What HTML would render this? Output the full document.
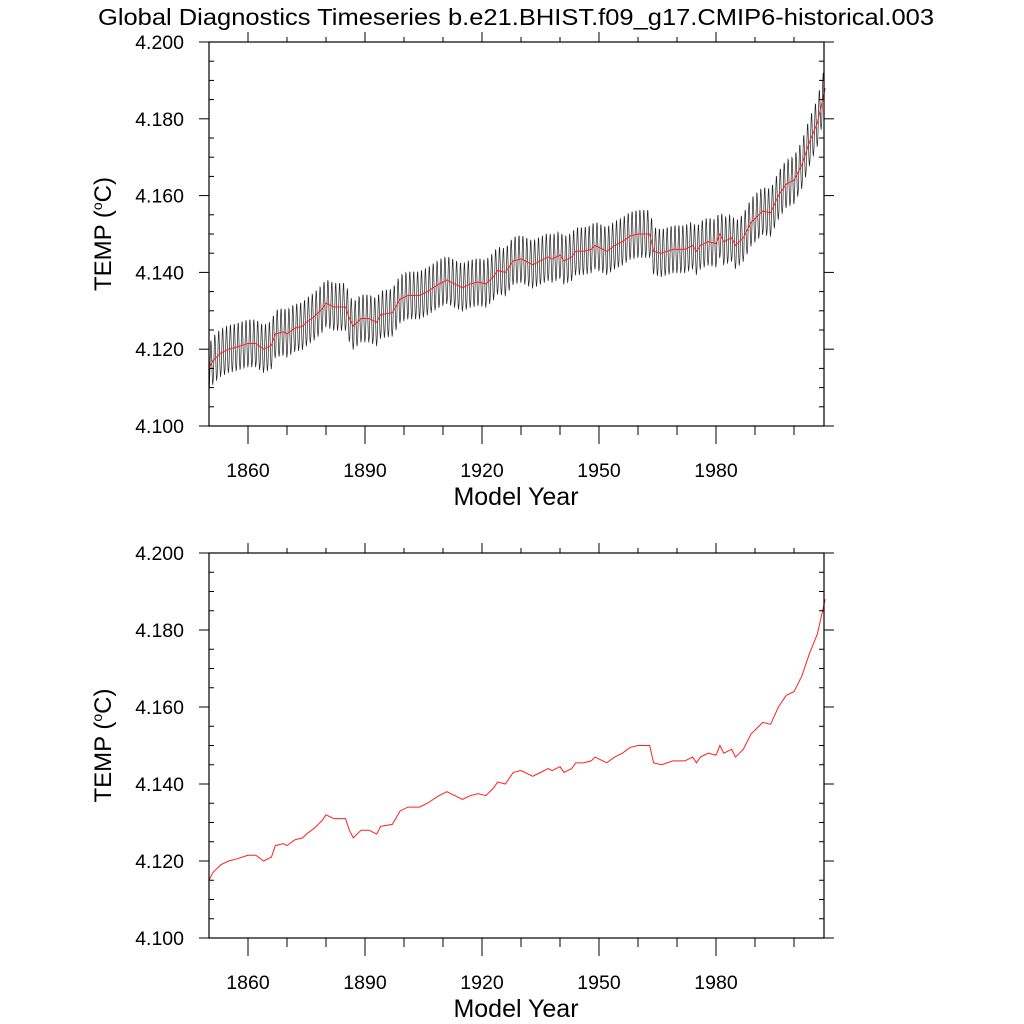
<!DOCTYPE html>
<html><head><meta charset="utf-8"><style>
html,body{margin:0;padding:0;background:#fff;}
svg{display:block;font-family:"Liberation Sans",sans-serif;}
</style></head><body>
<svg id="chart" width="1024" height="1024" viewBox="0 0 1024 1024" xmlns="http://www.w3.org/2000/svg">
<text x="516" y="25" font-size="23" text-anchor="middle" textLength="836" lengthAdjust="spacingAndGlyphs">Global Diagnostics Timeseries b.e21.BHIST.f09_g17.CMIP6-historical.003</text>
</svg>
<script>
const years = [1850,1851,1852,1853,1855,1857,1860,1862,1864,1866,1867,1869,1870,1872,1874,1875,1877,1879,1880,1882,1885,1886,1887,1889,1891,1893,1894,1897,1899,1901,1904,1906,1909,1911,1913,1915,1917,1919,1921,1923,1924,1926,1928,1930,1933,1934,1937,1938,1940,1941,1943,1944,1946,1948,1949,1951,1952,1954,1956,1958,1960,1963,1964,1966,1969,1972,1974,1975,1976,1978,1980,1981,1982,1984,1985,1987,1989,1991,1992,1994,1996,1998,2000,2002,2004,2006,2008];
const annualTemp = [4.115,4.117,4.118,4.119,4.120,4.1205,4.1215,4.1215,4.120,4.121,4.124,4.1245,4.124,4.1255,4.126,4.127,4.1285,4.1305,4.132,4.131,4.131,4.128,4.126,4.128,4.128,4.127,4.129,4.1295,4.133,4.134,4.134,4.135,4.137,4.138,4.137,4.136,4.137,4.1375,4.137,4.139,4.1405,4.140,4.143,4.1435,4.142,4.1425,4.144,4.1435,4.1445,4.143,4.144,4.1455,4.1455,4.146,4.147,4.146,4.1455,4.147,4.148,4.1495,4.150,4.150,4.1455,4.145,4.146,4.146,4.147,4.1455,4.147,4.148,4.1475,4.150,4.148,4.149,4.147,4.149,4.153,4.155,4.156,4.1555,4.160,4.163,4.164,4.168,4.174,4.179,4.188];
const seasonalAnom = [-0.0055,-0.0045,-0.0015,0.0015,0.0045,0.0062,0.006,0.0035,0.0005,-0.0025,-0.005,-0.0062];
const yTickLabels = ["4.100","4.120","4.140","4.160","4.180","4.200"];
const xTickLabels = ["1860","1890","1920","1950","1980"];

const NS="http://www.w3.org/2000/svg";
const svg=document.getElementById('chart');
const X0=209,X1=824,XMIN=1850,XMAX=1850+615/3.9;
function sx(yr){return X0+(yr-XMIN)/(XMAX-XMIN)*(X1-X0);}
function el(tag,attrs,parent){const e=document.createElementNS(NS,tag);for(const k in attrs)e.setAttribute(k,attrs[k]);(parent||svg).appendChild(e);return e;}
function annualAt(yr){
  if(yr<=years[0])return annualTemp[0];
  for(let i=1;i<years.length;i++){if(yr<=years[i]){const t=(yr-years[i-1])/(years[i]-years[i-1]);return annualTemp[i-1]+t*(annualTemp[i]-annualTemp[i-1]);}}
  return annualTemp[annualTemp.length-1];
}
function panel(top,bottom,showMonthly,idx){
  const g=el('g',{});
  
  
  const sy=v=>bottom-(v-4.1)/0.1*(bottom-top);
  if(showMonthly){
    let pts=[];
    for(let y=1850;y<XMAX;y++){for(let m=0;m<12;m++){const t=y+(m+0.5)/12;if(t>XMAX)break;pts.push(sx(t).toFixed(2)+','+sy(annualAt(t)+seasonalAnom[m]).toFixed(2));}}
    const p=el('polyline',{points:pts.join(' '),fill:'none',stroke:'#222','stroke-width':'0.7'},g);
    
    
  }
  const pts2=years.map((y,i)=>sx(y).toFixed(2)+','+sy(annualTemp[i]).toFixed(2)).join(' ');
  const r=el('polyline',{points:pts2,fill:'none',stroke:'#ff2020','stroke-width':'1'},g);
  
  
  const fr=el('rect',{x:X0,y:top,width:X1-X0,height:bottom-top,fill:'none',stroke:'#000','stroke-width':'1.2'},g);
  
  
  for(let k=0;k<=20;k++){
    const v=4.1+k*0.005,y=sy(v),maj=k%4===0;
    el('line',{x1:X0-(maj?10:0),x2:X0+(maj?0:5),y1:y,y2:y,stroke:'#000','stroke-width':'1'},g);
    el('line',{x1:X1+(maj?10:0),x2:X1-(maj?0:5),y1:y,y2:y,stroke:'#000','stroke-width':'1'},g);
  }
  yTickLabels.forEach((lab,i)=>{
    const t=el('text',{x:184,y:sy(parseFloat(lab))+7,'font-size':'19.5','text-anchor':'end'},g);
    t.textContent=lab;
    
    
  });
  for(let yr=1860;yr<XMAX;yr+=10){
    const x=sx(yr),maj=(yr-1860)%30===0;
    el('line',{x1:x,x2:x,y1:bottom,y2:bottom+(maj?18:9),stroke:'#000','stroke-width':'1'},g);
    el('line',{x1:x,x2:x,y1:top,y2:top-(maj?10:5),stroke:'#000','stroke-width':'1'},g);
  }
  xTickLabels.forEach(lab=>{
    const t=el('text',{x:sx(+lab),y:bottom+51,'font-size':'19.5','text-anchor':'middle'},g);
    t.textContent=lab;
    
    
  });
  const xt=el('text',{x:516,y:bottom+79,'font-size':'25','text-anchor':'middle'},g);
  xt.textContent='Model Year';
  
  
  const cy=(top+bottom)/2;
  const yt=el('text',{x:111,y:cy,'font-size':'24','text-anchor':'middle',transform:'rotate(-90 111 '+cy+')'},g);
  
  
  const a=el('tspan',{},yt);a.textContent='TEMP (';
  const b=el('tspan',{'font-size':'14',dy:'-9'},yt);b.textContent='o';
  const c=el('tspan',{dy:'9'},yt);c.textContent='C)';
}
panel(42,426,true,'top');
panel(553,938,false,'bottom');
</script>
</body></html>
